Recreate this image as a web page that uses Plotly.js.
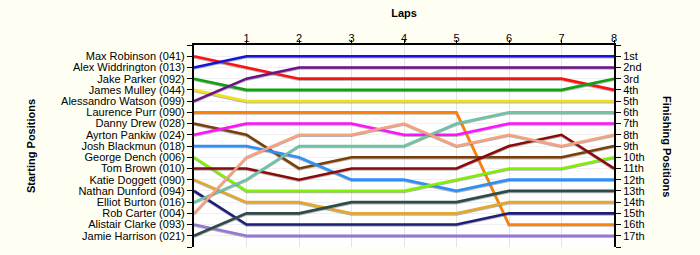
<!DOCTYPE html>
<html>
<head>
<meta charset="utf-8">
<script src="https://cdn.plot.ly/plotly-3.0.1.min.js"></script>
<style>
  html, body { margin: 0; padding: 0; background: #FFFEF3; }
  #chart { width: 700px; height: 255px; }
  .js-line { filter: drop-shadow(0px 1.5px 0px rgba(120,120,120,0.55)); }
</style>
</head>
<body>
<div id="chart"></div>
<script>
// ---- data ----
const laps = [0, 1, 2, 3, 4, 5, 6, 7, 8];

const drivers = [
  "Max Robinson (041)", "Alex Widdrington (013)", "Jake Parker (092)", "James Mulley (044)",
  "Alessandro Watson (099)", "Laurence Purr (090)", "Danny Drew (028)", "Ayrton Pankiw (024)",
  "Josh Blackmun (018)", "George Dench (006)", "Tom Brown (010)", "Katie Doggett (090)",
  "Nathan Dunford (094)", "Elliot Burton (016)", "Rob Carter (004)", "Alistair Clarke (093)",
  "Jamie Harrison (021)"
];

const finishLabels = ["1st","2nd","3rd","4th","5th","6th","7th","8th","9th","10th",
  "11th","12th","13th","14th","15th","16th","17th"];

const posMaxRobinson     = [1, 2, 3, 3, 3, 3, 3, 3, 4];
const posAlexWiddrington = [2, 1, 1, 1, 1, 1, 1, 1, 1];
const posJakeParker      = [3, 4, 4, 4, 4, 4, 4, 4, 3];
const posJamesMulley     = [4, 5, 5, 5, 5, 5, 5, 5, 5];
const posAlessandroWatson= [5, 3, 2, 2, 2, 2, 2, 2, 2];
const posLaurencePurr    = [6, 6, 6, 6, 6, 6, 16, 16, 16];
const posDannyDrew       = [7, 8, 11, 10, 10, 10, 10, 10, 9];
const posAyrtonPankiw    = [8, 7, 7, 7, 8, 8, 7, 7, 7];
const posJoshBlackmun    = [9, 9, 10, 12, 12, 13, 12, 12, 12];
const posGeorgeDench     = [10, 13, 13, 13, 13, 12, 11, 11, 10];
const posTomBrown        = [11, 11, 12, 11, 11, 11, 9, 8, 11];
const posKatieDoggett    = [12, 14, 14, 15, 15, 15, 14, 14, 14];
const posNathanDunford   = [13, 16, 16, 16, 16, 16, 15, 15, 15];
const posElliotBurton    = [14, 12, 9, 9, 9, 7, 6, 6, 6];
const posRobCarter       = [15, 10, 8, 8, 7, 9, 8, 9, 8];
const posAlistairClarke  = [16, 17, 17, 17, 17, 17, 17, 17, 17];
const posJamieHarrison   = [17, 15, 15, 14, 14, 14, 13, 13, 13];

const positions = [posMaxRobinson, posAlexWiddrington, posJakeParker, posJamesMulley,
  posAlessandroWatson, posLaurencePurr, posDannyDrew, posAyrtonPankiw, posJoshBlackmun,
  posGeorgeDench, posTomBrown, posKatieDoggett, posNathanDunford, posElliotBurton,
  posRobCarter, posAlistairClarke, posJamieHarrison];

const colors = ["#ff1010", "#1414dc", "#12a012", "#f2e01e", "#6b1387", "#ff8000",
  "#7a3f08", "#ff10ff", "#2e90f5", "#80f000", "#8b0a0a", "#e2a830", "#1e1e78",
  "#6cc3a6", "#f9a07e", "#9577d8", "#2f4a4a"];

const startNums = drivers.map((d, i) => i + 1);
const finishNums = finishLabels.map((d, i) => i + 1);
// axis ticks include the two empty edge slots (0 and n+1)
const edgeTicks = [0].concat(startNums, [startNums.length + 1]);
const leftTickText = [""].concat(drivers, [""]);
const rightTickText = [""].concat(finishLabels, [""]);

// ---- traces ----
const traces = drivers.map((name, i) => ({
  type: "scatter",
  mode: "lines",
  x: laps,
  y: positions[i],
  name: name,
  line: { color: colors[i], width: 2.6 },
  hoverinfo: "name+y"
}));

traces.push({
  type: "scatter",
  mode: "markers",
  x: finishNums.map(() => laps[laps.length - 1]),
  y: finishNums,
  yaxis: "y2",
  marker: { opacity: 0 },
  showlegend: false,
  hoverinfo: "skip"
});

const fontFam = "Liberation Sans, Arial, sans-serif";

const layout = {
  width: 700,
  height: 255,
  paper_bgcolor: "#FFFEF3",
  plot_bgcolor: "#FFFFFF",
  showlegend: false,
  margin: { l: 194, r: 86, t: 45, b: 8 },
  font: { family: fontFam, size: 11, color: "#000" },
  xaxis: {
    side: "top",
    range: [0, 8],
    tickvals: laps.slice(1),
    ticktext: laps.slice(1).map(String),
    ticks: "outside",
    ticklen: 3,
    tickcolor: "#000",
    ticklabelstandoff: -6,
    showline: true,
    linecolor: "#000",
    linewidth: 2,
    mirror: false,
    showgrid: true,
    gridcolor: "#e4e4e4",
    zeroline: false,
    tickfont: { family: fontFam, size: 11, color: "#000" },
    title: { text: "<b>Laps</b>", font: { family: fontFam, size: 11, color: "#000" }, standoff: 12 }
  },
  yaxis: {
    range: [18, 0],
    tickvals: edgeTicks,
    ticktext: leftTickText,
    ticks: "outside",
    ticklen: 5,
    tickcolor: "#000",
    showline: true,
    linecolor: "#000",
    linewidth: 2,
    showgrid: true,
    gridcolor: "#f0f0f0",
    zeroline: false,
    tickfont: { family: fontFam, size: 11, color: "#000" },
    title: { text: "<b>Starting Positions</b>", font: { family: fontFam, size: 11, color: "#000" }, standoff: 23 }
  },
  yaxis2: {
    overlaying: "y",
    side: "right",
    range: [18, 0],
    tickvals: edgeTicks,
    ticktext: rightTickText,
    ticks: "outside",
    ticklen: 5,
    tickcolor: "#000",
    showline: true,
    linecolor: "#000",
    linewidth: 2,
    showgrid: false,
    zeroline: false,
    tickfont: { family: fontFam, size: 11, color: "#000" }
  },
  annotations: [{
    text: "<b>Finishing Positions</b>",
    xref: "paper", yref: "paper",
    x: 1, xshift: 53, y: 0.5,
    xanchor: "center", yanchor: "middle",
    textangle: 90,
    showarrow: false,
    font: { family: fontFam, size: 11, color: "#000" }
  }]
};

Plotly.newPlot("chart", traces, layout, { displayModeBar: false, staticPlot: true });
</script>
</body>
</html>
